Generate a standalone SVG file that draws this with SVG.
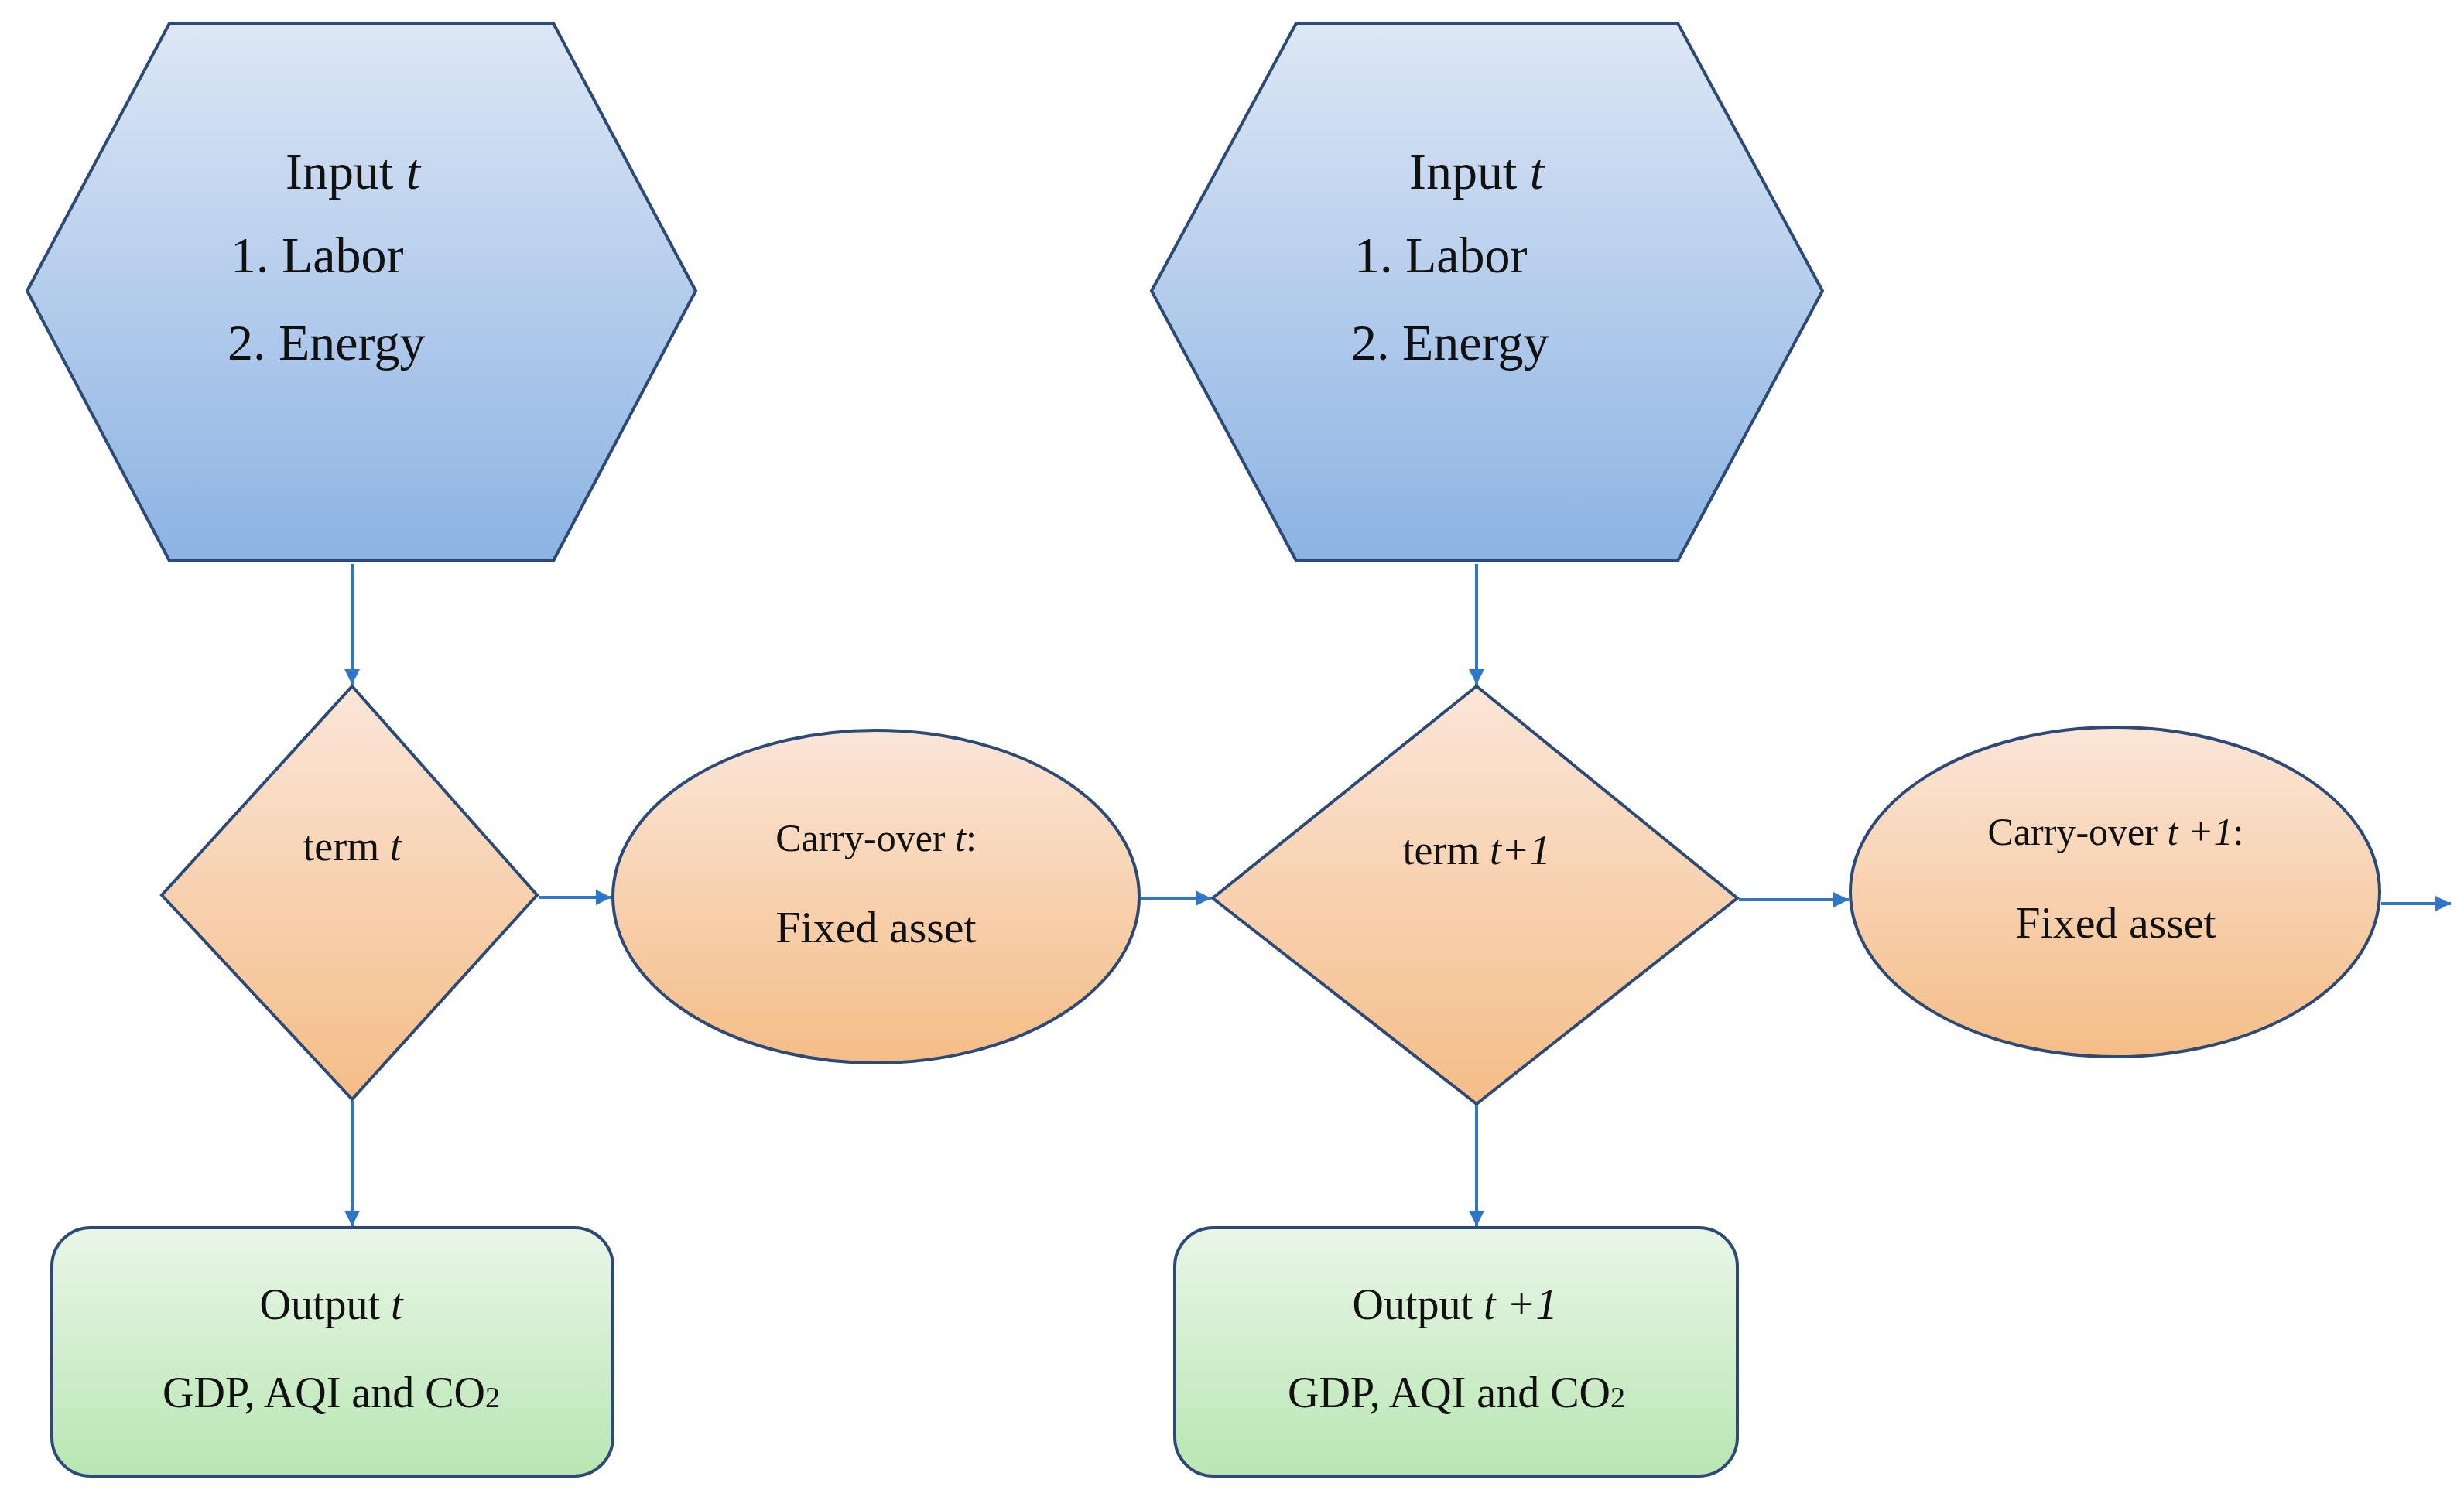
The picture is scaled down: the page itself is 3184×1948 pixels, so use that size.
<svg xmlns="http://www.w3.org/2000/svg" width="3184" height="1948" viewBox="0 0 3184 1948">
<defs>
<linearGradient id="gb" x1="0" y1="0" x2="0" y2="1"><stop offset="0" stop-color="#dde7f5"/><stop offset="1" stop-color="#8cb3e3"/></linearGradient>
<linearGradient id="go" x1="0" y1="0" x2="0" y2="1"><stop offset="0" stop-color="#fbe6d8"/><stop offset="1" stop-color="#f4bd87"/></linearGradient>
<linearGradient id="gg" x1="0" y1="0" x2="0" y2="1"><stop offset="0" stop-color="#eaf6e8"/><stop offset="1" stop-color="#b8e6b2"/></linearGradient>
<marker id="ah" viewBox="0 0 10 10" refX="10" refY="5" markerWidth="5" markerHeight="5" orient="auto"><path d="M0,0 L10,5 L0,10 z" fill="#2f75c8"/></marker>
</defs>
<style>
.s{stroke:#2c4a75;stroke-width:4}
.t{font-family:"Liberation Serif",serif;fill:#111}
.c{stroke:#2f75c8;stroke-width:4;fill:none;marker-end:url(#ah)}
</style>
<rect width="3184" height="1948" fill="#fff"/>
<g id="hex1"><polygon class="s" fill="url(#gb)" points="219,30 715,30 899,376 715,725 219,725 35,376"/>
<text class="t" font-size="66" x="369" y="244">Input <tspan font-style="italic">t</tspan></text>
<text class="t" font-size="66" x="298" y="352">1. Labor</text>
<text class="t" font-size="66" x="294" y="465">2. Energy</text></g>
<g id="hex2"><polygon class="s" fill="url(#gb)" points="1675,30 2168,30 2355,376 2168,725 1675,725 1488,376"/>
<text class="t" font-size="66" x="1821" y="244">Input <tspan font-style="italic">t</tspan></text>
<text class="t" font-size="66" x="1750" y="352">1. Labor</text>
<text class="t" font-size="66" x="1746" y="465">2. Energy</text></g>
<g id="term1"><polygon class="s" fill="url(#go)" points="455,887 694,1157 455,1421 209,1157"/>
<text class="t" font-size="54" x="455" y="1112" text-anchor="middle">term <tspan font-style="italic">t</tspan></text></g>
<g id="carry1"><ellipse class="s" fill="url(#go)" cx="1132" cy="1159" rx="340" ry="215"/>
<text class="t" font-size="50" x="1132" y="1100" text-anchor="middle">Carry-over <tspan font-style="italic">t</tspan>:</text>
<text class="t" font-size="58" x="1132" y="1218" text-anchor="middle">Fixed asset</text></g>
<g id="term2"><polygon class="s" fill="url(#go)" points="1908,887 2245,1161 1908,1427 1567,1161"/>
<text class="t" font-size="54" x="1908" y="1117" text-anchor="middle">term <tspan font-style="italic">t+1</tspan></text></g>
<g id="carry2"><ellipse class="s" fill="url(#go)" cx="2733" cy="1153" rx="342" ry="213"/>
<text class="t" font-size="50" x="2734" y="1092" text-anchor="middle">Carry-over <tspan font-style="italic">t +1</tspan>:</text>
<text class="t" font-size="58" x="2734" y="1212" text-anchor="middle">Fixed asset</text></g>
<g id="out1"><rect class="s" fill="url(#gg)" x="67" y="1587" width="725" height="321" rx="50"/>
<text class="t" font-size="56" x="428" y="1705" text-anchor="middle">Output <tspan font-style="italic">t</tspan></text>
<text class="t" font-size="56" x="428" y="1819" text-anchor="middle">GDP, AQI and CO<tspan font-size="38">2</tspan></text></g>
<g id="out2"><rect class="s" fill="url(#gg)" x="1518" y="1587" width="727" height="321" rx="50"/>
<text class="t" font-size="56" x="1880" y="1705" text-anchor="middle">Output <tspan font-style="italic">t +1</tspan></text>
<text class="t" font-size="56" x="1882" y="1819" text-anchor="middle">GDP, AQI and CO<tspan font-size="38">2</tspan></text></g>
<g id="connectors">
<line class="c" x1="455" y1="729" x2="455" y2="885"/>
<line class="c" x1="1908" y1="729" x2="1908" y2="885"/>
<line class="c" x1="455" y1="1423" x2="455" y2="1585"/>
<line class="c" x1="1908" y1="1429" x2="1908" y2="1585"/>
<line class="c" x1="696" y1="1160" x2="790" y2="1160"/>
<line class="c" x1="1474" y1="1161" x2="1565" y2="1161"/>
<line class="c" x1="2247" y1="1163" x2="2389" y2="1163"/>
<line class="c" x1="3077" y1="1168" x2="3167" y2="1168"/>
</g>
</svg>
